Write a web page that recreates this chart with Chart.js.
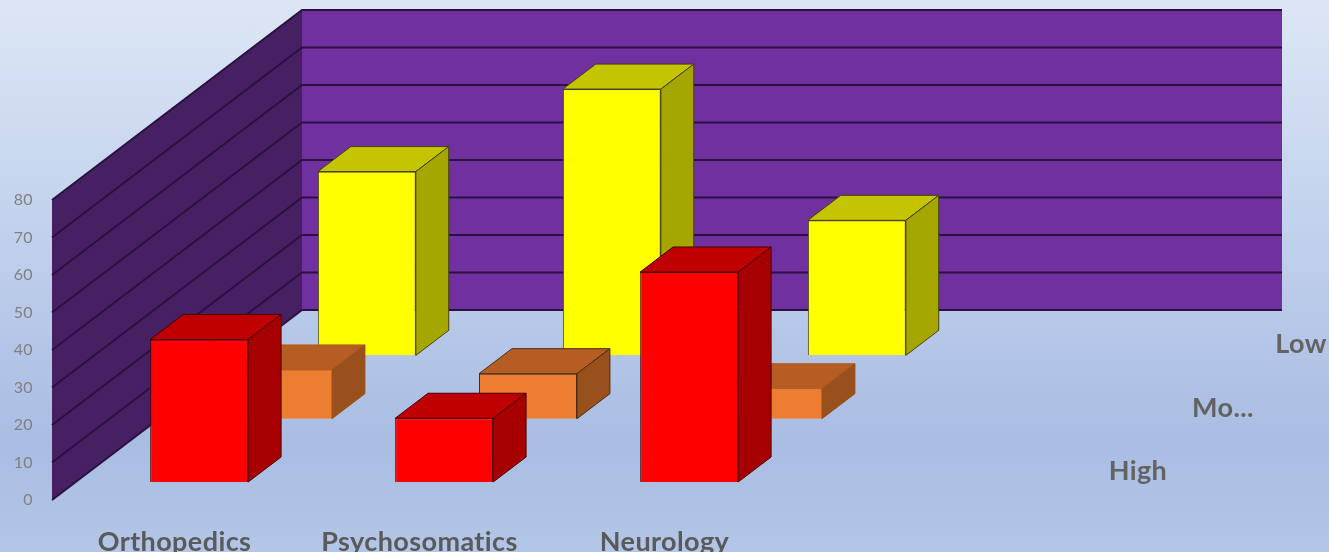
<!DOCTYPE html>
<html>
<head>
<meta charset="utf-8">
<title>Departments by level</title>
<script src="https://cdn.jsdelivr.net/npm/chart.js@4"></script>
<style>
  html, body { margin: 0; padding: 0; }
  #wrap {
    width: 1329px; height: 552px; overflow: hidden;
    background: linear-gradient(180deg, #dce6f5 0%, #c9d7ef 30%, #a9bde3 80%, #b3c6e7 100%);
  }
</style>
</head>
<body>
<div id="wrap"><canvas id="chart" width="1329" height="552"></canvas></div>
<script>
const departments = ["Orthopedics", "Psychosomatics", "Neurology", ""];
const seriesNames = ["High", "Mo...", "Low"];
const high = [38, 17, 56, null];
const moderate = [13, 12, 8, null];
const low = [49, 71, 36, null];

// how far the floor runs back, in pixels
const depthX = 250;
const depthY = 190;
// each series owns a third of the floor; the box sits inside its slot
const slotGap = 0.284;
const slotBox = 0.395;

const faces = [
  { front: "#ff0000", top: "#c00000", side: "#a60000", line: "#480000" },
  { front: "#ed7d31", top: "#b55d22", side: "#9a501c", line: "#4a2c14" },
  { front: "#ffff00", top: "#c4c400", side: "#a6a600", line: "#404010" }
];
// two of the orange boxes have no dark outline
const orangeLines = [null, "#4a2c14", null, null];

function slotOffset(i, part) {
  const f = (i + part) / seriesNames.length;
  return { x: depthX * f, y: -depthY * f };
}

const walls = {
  id: "walls",
  // a little spacing also turns off the "ti" ligature in Lato
  beforeDraw(chart) {
    chart.ctx.letterSpacing = "0.4px";
  },
  beforeDatasetsDraw(chart) {
    const { ctx, chartArea: a, scales } = chart;
    ctx.save();
    ctx.fillStyle = "#7030a0";
    ctx.fillRect(a.left + depthX, a.top - depthY, a.right - a.left, a.bottom - a.top);
    ctx.fillStyle = "#472063";
    ctx.beginPath();
    ctx.moveTo(a.left, a.top);
    ctx.lineTo(a.left + depthX, a.top - depthY);
    ctx.lineTo(a.left + depthX, a.bottom - depthY);
    ctx.lineTo(a.left, a.bottom);
    ctx.closePath();
    ctx.fill();
    ctx.strokeStyle = "#2a1140";
    ctx.lineWidth = 2;
    scales.y.ticks.forEach(t => {
      const y = scales.y.getPixelForValue(t.value);
      ctx.beginPath();
      ctx.moveTo(a.left, y);
      ctx.lineTo(a.left + depthX, y - depthY);
      ctx.lineTo(a.right + depthX, y - depthY);
      ctx.stroke();
    });
    ctx.restore();
  }
};

// the library draws the front faces, shifted back into their slot; top and side are added after
const boxes = {
  id: "boxes",
  beforeDatasetDraw(chart, args) {
    const o = slotOffset(args.index, slotGap);
    chart.ctx.save();
    chart.ctx.translate(o.x + 1 + args.index * 0.5, o.y);
  },
  afterDatasetDraw(chart, args) {
    const { ctx } = chart;
    const face = faces[args.index];
    const dx = depthX * slotBox / seriesNames.length;
    const dy = depthY * slotBox / seriesNames.length;
    args.meta.data.forEach((bar, n) => {
      const v = chart.data.datasets[args.index].data[n];
      if (v === null) return;
      const { x, y, base, width } = bar.getProps(["x", "y", "base", "width"]);
      const l = x - width / 2;
      const r = x + width / 2;
      const line = args.index === 1 ? orangeLines[n] : face.line;
      ctx.lineWidth = 1;
      ctx.lineJoin = "round";
      ctx.fillStyle = face.top;
      ctx.strokeStyle = line || face.top;
      ctx.beginPath();
      ctx.moveTo(l, y);
      ctx.lineTo(l + dx, y - dy);
      ctx.lineTo(r + dx, y - dy);
      ctx.lineTo(r, y);
      ctx.closePath();
      ctx.fill();
      ctx.stroke();
      ctx.fillStyle = face.side;
      ctx.strokeStyle = line || face.side;
      ctx.beginPath();
      ctx.moveTo(r, y);
      ctx.lineTo(r + dx, y - dy);
      ctx.lineTo(r + dx, base - dy);
      ctx.lineTo(r, base);
      ctx.closePath();
      ctx.fill();
      ctx.stroke();
    });
    ctx.restore();
  }
};

// series names along the right edge of the floor
const depthLabels = {
  id: "depthLabels",
  afterDraw(chart) {
    const { ctx, chartArea: a } = chart;
    ctx.save();
    ctx.font = "bold 27px Lato";
    ctx.fillStyle = "#636363";
    ctx.textAlign = "left";
    ctx.textBaseline = "middle";
    seriesNames.forEach((name, i) => {
      const o = slotOffset(i, 0.5);
      ctx.fillText(name, a.right + o.x + 35, a.bottom + o.y + 3);
    });
    ctx.restore();
  }
};

function dataset(label, data, i) {
  return {
    label: label,
    data: data,
    backgroundColor: faces[i].front,
    borderColor: i === 1 ? orangeLines.map(c => c || faces[i].front) : faces[i].line,
    borderWidth: 1,
    clip: false
  };
}

new Chart(document.getElementById("chart"), {
  type: "bar",
  data: {
    labels: departments,
    datasets: [dataset(seriesNames[0], high, 0), dataset(seriesNames[1], moderate, 1), dataset(seriesNames[2], low, 2)]
  },
  options: {
    responsive: false,
    animation: false,
    grouped: false,
    categoryPercentage: 1,
    barPercentage: 0.4,
    layout: { padding: { top: 200, right: 297 } },
    plugins: { legend: { display: false }, tooltip: { enabled: false } },
    scales: {
      x: {
        grid: { display: false },
        border: { display: false },
        ticks: {
          color: "#5a5a5a",
          font: { family: "Lato", size: 27, weight: "bold" },
          padding: 18,
          autoSkip: false,
          maxRotation: 0
        },
        afterFit(scale) { scale.height = 52; }
      },
      y: {
        min: 0,
        max: 80,
        grid: { display: false },
        border: { display: false },
        ticks: {
          stepSize: 10,
          color: "#808080",
          font: { family: "Lato", size: 16 },
          padding: 11
        },
        afterFit(scale) { scale.width = 52; }
      }
    }
  },
  plugins: [walls, boxes, depthLabels]
});
</script>
</body>
</html>
